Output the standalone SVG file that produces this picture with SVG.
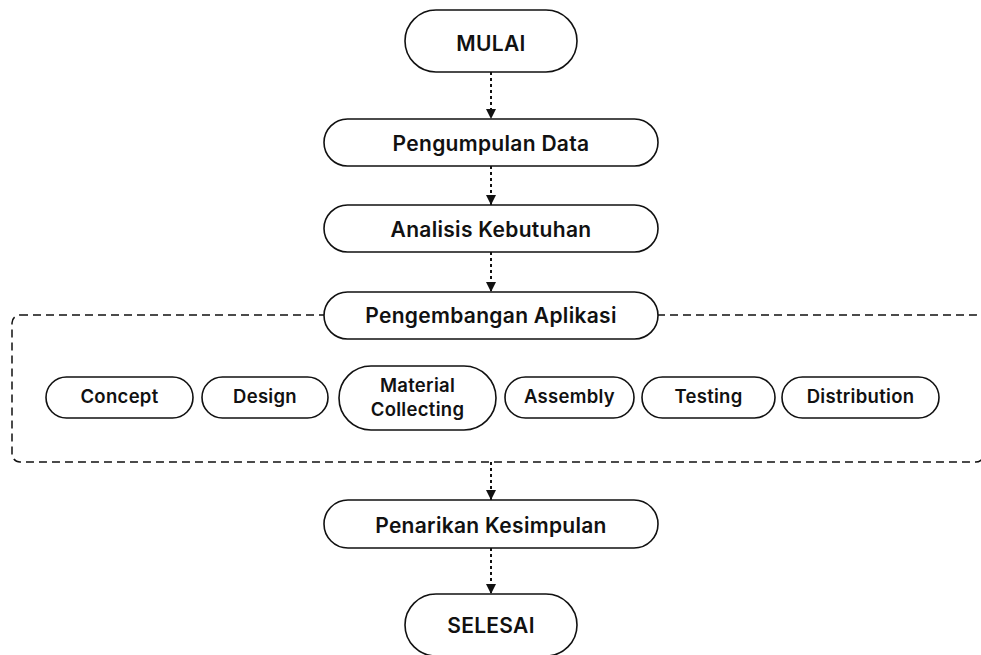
<svg xmlns="http://www.w3.org/2000/svg" width="981" height="655" viewBox="0 0 981 655">
<style>
.n{fill:#fff;stroke:#111;stroke-width:1.6}
.t{font-family:Inter,"Liberation Sans",sans-serif;font-weight:600;fill:#111;text-anchor:middle;letter-spacing:0.3px}
.big{font-size:21px}
.sm{font-size:18.5px}
.c{stroke:#111;stroke-width:2;stroke-dasharray:3 3;fill:none}
.grp{fill:none;stroke:#111;stroke-width:1.5;stroke-dasharray:8 5}
</style>
<defs>
<marker id="ah" viewBox="0 0 10 10" refX="10" refY="5" markerWidth="10" markerHeight="10" markerUnits="userSpaceOnUse" orient="auto">
<path d="M0,0 L10,5 L0,10 Z" fill="#111"/>
</marker>
</defs>
<rect class="grp" x="12" y="315" width="972" height="147" rx="8"/>
<g id="connectors">
<line class="c" x1="491" y1="72" x2="491" y2="119" marker-end="url(#ah)"/>
<line class="c" x1="491" y1="166" x2="491" y2="205" marker-end="url(#ah)"/>
<line class="c" x1="491" y1="252" x2="491" y2="292" marker-end="url(#ah)"/>
<line class="c" x1="491" y1="462" x2="491" y2="500" marker-end="url(#ah)"/>
<line class="c" x1="491" y1="548" x2="491" y2="594" marker-end="url(#ah)"/>
</g>
<g id="mulai"><rect class="n" x="405" y="10" width="172" height="62" rx="31"/><text class="t big" x="491" y="51">MULAI</text></g>
<g id="pengumpulan"><rect class="n" x="324" y="119" width="334" height="47" rx="23.5"/><text class="t big" x="491" y="151">Pengumpulan Data</text></g>
<g id="analisis"><rect class="n" x="324" y="205" width="334" height="47" rx="23.5"/><text class="t big" x="491" y="237">Analisis Kebutuhan</text></g>
<g id="pengembangan"><rect class="n" x="324" y="292" width="334" height="47" rx="23.5"/><text class="t big" x="491" y="323">Pengembangan Aplikasi</text></g>
<g id="concept"><rect class="n" x="46" y="377" width="147" height="41" rx="20.5"/><text class="t sm" x="119.5" y="403">Concept</text></g>
<g id="design"><rect class="n" x="202" y="377" width="126" height="41" rx="20.5"/><text class="t sm" x="265" y="403">Design</text></g>
<g id="material"><rect class="n" x="339" y="366" width="157" height="64" rx="32"/><text class="t sm" x="417.5" y="392">Material</text><text class="t sm" x="417.5" y="416">Collecting</text></g>
<g id="assembly"><rect class="n" x="505" y="377" width="129" height="41" rx="20.5"/><text class="t sm" x="569.5" y="403">Assembly</text></g>
<g id="testing"><rect class="n" x="642" y="377" width="133" height="41" rx="20.5"/><text class="t sm" x="708.5" y="403">Testing</text></g>
<g id="distribution"><rect class="n" x="782" y="377" width="157" height="41" rx="20.5"/><text class="t sm" x="860.5" y="403">Distribution</text></g>
<g id="penarikan"><rect class="n" x="324" y="500" width="334" height="48" rx="24"/><text class="t big" x="491" y="533">Penarikan Kesimpulan</text></g>
<g id="selesai"><rect class="n" x="405" y="594" width="172" height="62" rx="31"/><text class="t big" x="491" y="633">SELESAI</text></g>
</svg>
